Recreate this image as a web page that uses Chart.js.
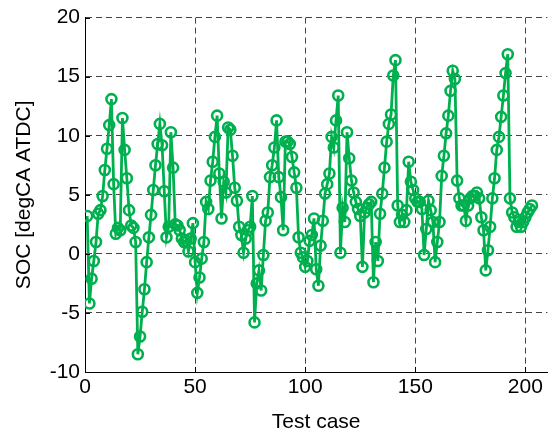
<!DOCTYPE html>
<html>
<head>
<meta charset="utf-8">
<script src="https://cdn.jsdelivr.net/npm/chart.js@4"></script>
<style>
  body { margin: 0; background: #fff; overflow: hidden; }
  #wrap { width: 555px; height: 434px; }
</style>
</head>
<body>
<div id="wrap"><canvas id="chart" width="555" height="434"></canvas></div>
<script>
// SOC per test case (test cases 1..203)
const socValues = [
  3.2, -4.2, -2.1, -0.6, 1.0, 3.4, 3.7, 4.9, 7.1, 8.9,
  10.9, 13.1, 5.9, 1.7, 2.2, 2.0, 11.5, 8.8, 6.4, 3.7,
  2.4, 2.2, 1.0, -8.5, -7.0, -4.9, -3.0, -0.7, 1.4, 3.3,
  5.4, 7.5, 9.3, 11.0, 9.2, 5.3, 1.4, 2.3, 10.3, 7.3,
  2.5, 2.4, 2.0, 1.3, 1.0, 1.1, 0.2, 1.3, 2.6, -0.7,
  -3.3, -2.0, -0.4, 1.0, 4.4, 3.8, 6.2, 7.8, 9.9, 11.7,
  6.8, 3.0, 6.1, 5.2, 10.7, 10.5, 8.3, 5.6, 4.5, 2.3,
  1.6, 0.1, 1.3, 2.0, 2.3, 4.9, -5.8, -2.5, -1.4, -3.1,
  -0.1, 2.8, 3.5, 6.5, 7.5, 9.0, 11.3, 6.5, 4.8, 2.0,
  9.5, 9.5, 9.3, 8.2, 6.9, 5.6, 1.4, 0.1, -0.3, -1.1,
  -0.6, 1.1, 1.6, 3.0, -1.3, -2.7, 0.7, 2.8, 5.1, 5.9,
  6.8, 9.9, 9.0, 11.3, 13.4, 0.1, 3.9, 2.7, 10.3, 8.1,
  6.2, 5.2, 4.4, 3.8, 3.2, -1.1, 3.5, 3.9, 4.2, 4.4,
  -2.4, 1.0, -0.6, 3.4, 5.1, 7.3, 9.5, 11.0, 11.8, 15.1,
  16.4, 4.1, 2.7, 3.3, 2.7, 3.7, 7.8, 6.1, 5.4, 4.7,
  4.4, 4.4, 3.8, -0.1, 2.1, 4.5, 3.7, 2.7, -0.7, 1.0,
  2.7, 6.6, 8.3, 10.2, 11.7, 13.8, 15.5, 14.8, 6.2, 4.7,
  4.1, 4.1, 2.8, 4.1, 4.7, 4.9, 4.9, 5.2, 4.7, 3.1,
  2.0, -1.4, 0.3, 2.3, 4.7, 6.4, 8.8, 9.9, 11.6, 13.4,
  15.3, 16.9, 4.7, 3.5, 3.1, 2.3, 2.7, 2.3, 2.7, 3.1,
  3.5, 3.8, 4.1
];
const xTicks = [0, 50, 100, 150, 200];
const yTicks = [-10, -5, 0, 5, 10, 15, 20];

const lineGreen = "#00b04f";
const font = { family: "'Liberation Sans', Arial, sans-serif", size: 21 };

// small inward tick marks like the original (axes box off: left + bottom only)
const innerTicks = {
  id: "innerTicks",
  afterDraw(chart) {
    const { ctx, chartArea, scales } = chart;
    ctx.save();
    ctx.strokeStyle = "#000";
    ctx.lineWidth = 1;
    ctx.beginPath();
    xTicks.forEach((t) => {
      const px = Math.round(scales.x.getPixelForValue(t)) + 0.5;
      ctx.moveTo(px, chartArea.bottom);
      ctx.lineTo(px, chartArea.bottom - 5);
    });
    yTicks.forEach((t) => {
      const py = Math.round(scales.y.getPixelForValue(t)) + 0.5;
      ctx.moveTo(chartArea.left, py);
      ctx.lineTo(chartArea.left + 5, py);
    });
    ctx.stroke();
    ctx.restore();
  },
};

new Chart(document.getElementById("chart"), {
  type: "line",
  data: {
    datasets: [
      {
        data: socValues.map((v, i) => ({ x: i + 1, y: v })),
        borderColor: lineGreen,
        borderWidth: 2.8,
        pointRadius: 5,
        pointBorderWidth: 2.6,
        pointBorderColor: lineGreen,
        pointBackgroundColor: "rgba(0,0,0,0)",
        tension: 0,
      },
    ],
  },
  options: {
    responsive: false,
    animation: false,
    events: [],
    layout: { padding: { left: 0, top: 17, right: 3, bottom: 0 } },
    plugins: { legend: { display: false }, tooltip: { enabled: false } },
    scales: {
      x: {
        type: "linear",
        min: 0,
        max: 210,
        afterBuildTicks: (scale) => {
          scale.ticks = xTicks.map((v) => ({ value: v }));
        },
        afterFit: (scale) => {
          scale.height = 62;
        },
        grid: { color: "#444", lineWidth: 1, drawTicks: false },
        border: { display: true, color: "#000", width: 1, dash: [6, 4] },
        ticks: { color: "#000", font, padding: 3, maxRotation: 0 },
        title: {
          display: true,
          text: "Test case",
          color: "#000",
          font: { ...font, lineHeight: 1.1 },
          padding: { top: 0, bottom: 0 },
        },
      },
      y: {
        min: -10,
        max: 20,
        afterBuildTicks: (scale) => {
          scale.ticks = yTicks.map((v) => ({ value: v }));
        },
        afterFit: (scale) => {
          scale.width = 85;
        },
        grid: { color: "#444", lineWidth: 1, drawTicks: false },
        border: { display: true, color: "#000", width: 1, dash: [6, 4] },
        ticks: { color: "#000", font, padding: 5 },
        title: {
          display: true,
          text: "SOC [degCA ATDC]",
          color: "#000",
          font: { ...font, lineHeight: 1.2 },
          padding: { top: 12, bottom: 0 },
        },
      },
    },
  },
  plugins: [innerTicks],
});
</script>
</body>
</html>
